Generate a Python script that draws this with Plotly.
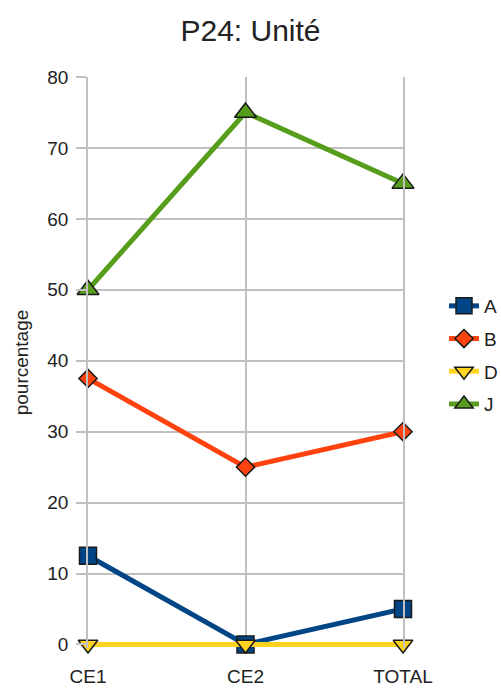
import plotly.graph_objects as go

categories = ["CE1", "CE2", "TOTAL"]
series_names = ["A", "B", "D", "J"]
values_A = [12.5, 0, 5]
values_B = [37.5, 25, 30]
values_D = [0, 0, 0]
values_J = [50, 75, 65]
y_ticks = [0, 10, 20, 30, 40, 50, 60, 70, 80]

colors = ["#004586", "#ff420e", "#ffd320", "#579d1c"]
symbols = ["square", "diamond", "triangle-down", "triangle-up"]
sizes = [17, 14, 17, 19]
data = [values_A, values_B, values_D, values_J]

fig = go.Figure()
for name, vals, c, s, sz in zip(series_names, data, colors, symbols, sizes):
    fig.add_trace(go.Scatter(
        x=categories, y=vals, name=name, mode="lines+markers", legendgroup=name,
        line=dict(color=c, width=5),
        marker=dict(symbol=s, size=sz, color=c, line=dict(color="#1a1a1a", width=1.5)),
        cliponaxis=False,
    ))

font = "Liberation Sans, Arial, sans-serif"
W, H = 501, 688
fig.update_layout(
    width=W, height=H,
    margin=dict(l=88, r=98, t=77, b=40, autoexpand=False),
    paper_bgcolor="white", plot_bgcolor="white",
    title=dict(text="P24: Unité", x=0.5, xanchor="center", y=1 - 30 / H, yanchor="middle",
               font=dict(family=font, size=30, color="#222")),
    font=dict(family=font, size=19, color="#222"),
    showlegend=True,
    legend=dict(xref="container", yref="container", x=444 / W, y=1 - 287 / H,
                xanchor="left", yanchor="top",
                font=dict(size=19, color="#222"), itemwidth=30, tracegroupgap=5,
                bgcolor="rgba(0,0,0,0)"),
    xaxis=dict(type="category", range=[0, 2], showgrid=True, gridcolor="#c0c0c0", gridwidth=1.5,
               zeroline=False, showline=False, ticks="", ticklabelstandoff=15, automargin=False,
               tickfont=dict(size=19, color="#222")),
    yaxis=dict(range=[-0.5, 80], tickvals=y_ticks, showgrid=True, gridcolor="#c0c0c0", gridwidth=1.5,
               zeroline=False, showline=True, mirror=True, linecolor="#c0c0c0", linewidth=1.5,
               ticks="outside", ticklen=10, tickcolor="#c0c0c0", automargin=False,
               tickwidth=1.5, tickfont=dict(size=19, color="#222"), ticklabelstandoff=4,
               title=dict(text="pourcentage", font=dict(size=19, color="#222"), standoff=14)),
)

fig.write_html("out.html", config={"displayModeBar": False},
               post_script="document.body.style.margin='0';document.body.style.overflow='hidden';")
